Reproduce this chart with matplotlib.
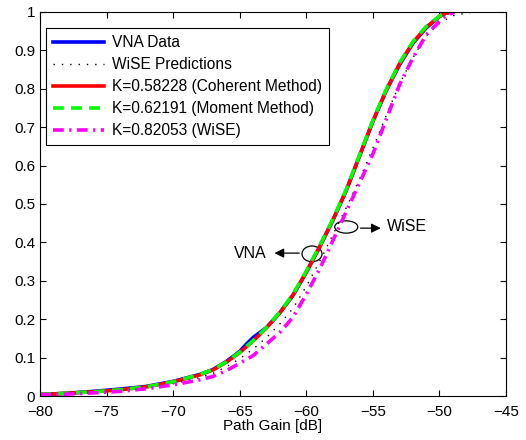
import matplotlib
matplotlib.use('Agg')
import matplotlib.pyplot as plt
from matplotlib.patches import Ellipse

plt.rcParams['font.family'] = ['Liberation Sans', 'DejaVu Sans']
plt.rcParams['axes.unicode_minus'] = True

# CDF of path gain
vna_x = [-80, -78, -76, -74, -72, -70, -68, -67, -66, -65, -64.5, -64, -63, -62, -61, -60,
         -59, -58, -57, -56, -55, -54, -53, -52, -51, -50, -49.5, -49]
vna_y = [0.004, 0.007, 0.012, 0.018, 0.025, 0.038, 0.056, 0.069, 0.090, 0.116, 0.135, 0.152,
         0.178, 0.216, 0.262, 0.322, 0.388, 0.458, 0.535, 0.625, 0.715, 0.795, 0.862, 0.918,
         0.958, 0.988, 0.997, 1.0]

coh_x = [-80, -78, -76, -74, -72, -70, -68, -67, -66, -65, -64, -63, -62, -61, -60, -59,
         -58, -57, -56, -55, -54, -53, -52, -51, -50, -49.5, -49]
coh_y = [0.004, 0.007, 0.011, 0.016, 0.024, 0.037, 0.055, 0.068, 0.088, 0.113, 0.143, 0.177,
         0.216, 0.263, 0.322, 0.388, 0.458, 0.535, 0.625, 0.715, 0.795, 0.865, 0.920,
         0.960, 0.988, 0.997, 1.0]

mom_x = coh_x
mom_y = [0.004, 0.007, 0.011, 0.016, 0.024, 0.037, 0.056, 0.069, 0.089, 0.114, 0.144, 0.178,
         0.218, 0.265, 0.325, 0.391, 0.461, 0.538, 0.628, 0.718, 0.798, 0.867, 0.922,
         0.962, 0.989, 0.997, 1.0]

pred_x = [-80, -78, -76, -74, -72, -70, -68, -67, -66, -65, -64, -63, -62, -61, -60, -59,
          -58, -57, -56, -55, -54, -53, -52, -51, -50, -49, -48, -47.3]
pred_y = [0.004, 0.006, 0.010, 0.014, 0.021, 0.032, 0.048, 0.059, 0.076, 0.097, 0.122, 0.152,
          0.187, 0.228, 0.285, 0.350, 0.420, 0.490, 0.565, 0.645, 0.730, 0.812, 0.880,
          0.937, 0.970, 0.990, 0.997, 1.0]

wise_x = [-80, -78, -76, -74, -72, -70, -68, -67, -66, -65, -64, -63, -62, -61, -60, -59,
          -58, -57, -56, -55, -54, -53, -52, -51, -50, -49.5, -49]
wise_y = [0.003, 0.005, 0.008, 0.012, 0.019, 0.029, 0.042, 0.051, 0.066, 0.085, 0.105, 0.135,
          0.165, 0.205, 0.265, 0.330, 0.405, 0.480, 0.555, 0.630, 0.720, 0.810, 0.880,
          0.940, 0.975, 0.990, 0.997]

x_ticks = [-80, -75, -70, -65, -60, -55, -50, -45]
y_ticks = [0, 0.1, 0.2, 0.3, 0.4, 0.5, 0.6, 0.7, 0.8, 0.9, 1]
y_tick_labels = ['0', '0.1', '0.2', '0.3', '0.4', '0.5', '0.6', '0.7', '0.8', '0.9', '1']

fig = plt.figure(figsize=(5.26, 4.4), dpi=100)
ax = fig.add_axes([0.076, 0.1, 0.886, 0.873])

ax.plot(vna_x, vna_y, color='#0000ff', lw=2.6, label='VNA Data')
ax.plot(pred_x, pred_y, color='k', lw=1.0, linestyle=(0, (1, 5)), label='WiSE Predictions')
ax.plot(coh_x, coh_y, color='#ff0000', lw=2.6, label='K=0.58228 (Coherent Method)')
ax.plot(mom_x, mom_y, color='#00ff00', lw=2.6, linestyle=(0, (3, 2)),
        label='K=0.62191 (Moment Method)')
ax.plot(wise_x, wise_y, color='#ff00ff', lw=2.6, linestyle=(0, (3, 1.5, 0.6, 1.5)),
        label='K=0.82053 (WiSE)')

# annotations
ax.add_patch(Ellipse((-59.57, 0.370), 1.5, 0.041, fill=False, color='k', lw=0.9))
ax.add_patch(Ellipse((-57.0, 0.440), 1.73, 0.032, fill=False, color='k', lw=0.9))
ax.annotate('', xy=(-62.6, 0.372), xytext=(-60.32, 0.372),
            arrowprops=dict(arrowstyle='-|>', color='k', lw=0.9, mutation_scale=14))
ax.annotate('', xy=(-54.2, 0.437), xytext=(-56.14, 0.437),
            arrowprops=dict(arrowstyle='-|>', color='k', lw=0.9, mutation_scale=14))
ax.text(-64.2, 0.372, 'VNA', ha='center', va='center', fontsize=11.5)
ax.text(-53.95, 0.44, 'WiSE', ha='left', va='center', fontsize=11.5)

ax.set_xlim(-80, -45)
ax.set_ylim(0, 1)
ax.set_xticks(x_ticks)
ax.set_yticks(y_ticks)
ax.set_yticklabels(y_tick_labels)
ax.tick_params(direction='in', top=True, right=True, labelsize=11, length=4, width=0.8)
ax.tick_params(axis='x', pad=6.5)
ax.set_xlabel('Path Gain [dB]', fontsize=11, labelpad=0)

leg = ax.legend(loc='upper left', bbox_to_anchor=(0.013, 0.958), fontsize=11.2,
                frameon=True, fancybox=False, edgecolor='k', framealpha=1,
                handlelength=3.3, borderaxespad=0, labelspacing=0.45, handletextpad=0.5,
                borderpad=0.45)
leg.get_frame().set_linewidth(0.8)

fig.savefig('out.png', dpi=100)
